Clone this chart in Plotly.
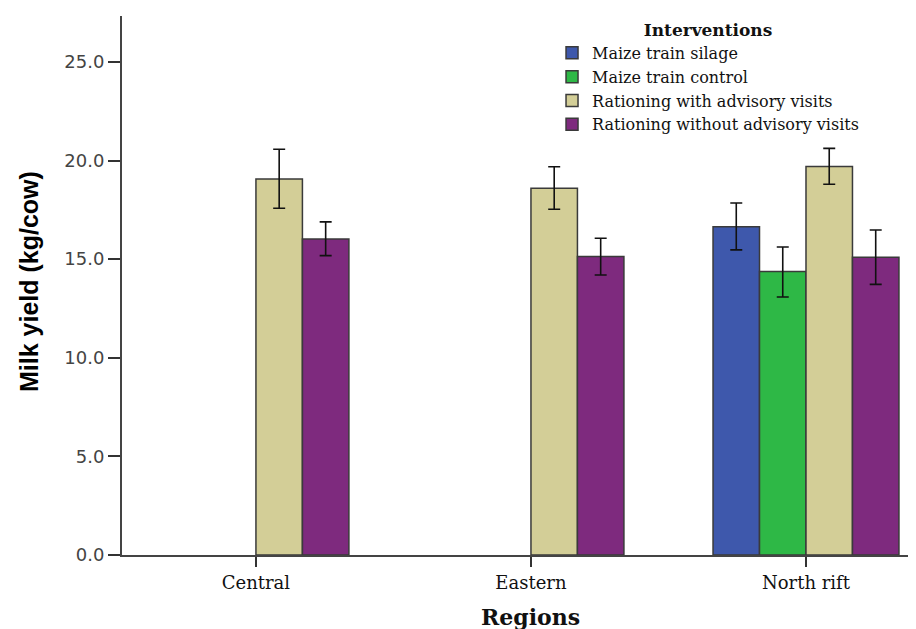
import plotly.graph_objects as go

regions = ["Central", "Eastern", "North rift"]
series_names = ["Maize train silage", "Maize train control",
                "Rationing with advisory visits", "Rationing without advisory visits"]
colors = ["#3E58AC", "#2EB846", "#D3CE97", "#7E2A7E"]

silage = [None, None, 16.65]
silage_hi = [None, None, 17.85]
silage_lo = [None, None, 15.47]

control = [None, None, 14.37]
control_hi = [None, None, 15.62]
control_lo = [None, None, 13.08]

with_visits = [19.07, 18.60, 19.70]
with_visits_hi = [20.57, 19.69, 20.62]
with_visits_lo = [17.58, 17.53, 18.80]

without_visits = [16.02, 15.13, 15.10]
without_visits_hi = [16.89, 16.06, 16.48]
without_visits_lo = [15.18, 14.20, 13.72]

yticks = [0, 5, 10, 15, 20, 25]

series = [
    (silage, silage_hi, silage_lo),
    (control, control_hi, control_lo),
    (with_visits, with_visits_hi, with_visits_lo),
    (without_visits, without_visits_hi, without_visits_lo),
]

fig = go.Figure()
for name, col, (vals, hi, lo) in zip(series_names, colors, series):
    plus = [None if v is None else h - v for v, h in zip(vals, hi)]
    minus = [None if v is None else v - l for v, l in zip(vals, lo)]
    fig.add_trace(go.Bar(
        x=regions, y=vals, name=name,
        marker=dict(color=col, line=dict(color="#3a3a3a", width=1.5)),
        error_y=dict(type="data", symmetric=False, array=plus, arrayminus=minus,
                     color="#111111", thickness=1.6, width=6),
    ))

fig.update_layout(
    width=916, height=629,
    margin=dict(l=114, r=8, t=8, b=82, autoexpand=False),
    paper_bgcolor="white", plot_bgcolor="white",
    barmode="group", bargap=0.324, bargroupgap=0,
    showlegend=True,
    legend=dict(
        x=0.5416, y=1.004, xanchor="left", yanchor="top",
        title=dict(text="<b>Interventions</b>", side="top center",
                   font=dict(family="DejaVu Serif", size=17, color="#111")),
        font=dict(family="DejaVu Serif", size=16, color="#111"),
        bgcolor="rgba(0,0,0,0)", tracegroupgap=0,
    ),
    font=dict(family="DejaVu Sans", color="#333"),
)

fig.update_xaxes(
    type="category", range=[-0.487, 2.4],
    showline=True, linecolor="#444", linewidth=2,
    ticks="outside", ticklen=10, tickwidth=1.5, tickcolor="#333",
    tickfont=dict(family="DejaVu Serif", size=18, color="#111"),
    showgrid=False, zeroline=False,
)
fig.update_yaxes(
    range=[0, 27.33], tickvals=yticks, tickformat=".1f",
    showline=True, linecolor="#444", linewidth=2,
    ticks="outside", ticklen=12, tickwidth=1.5, tickcolor="#333",
    tickfont=dict(family="DejaVu Sans", size=18, color="#444"),
    showgrid=False, zeroline=False,
)

fig.add_annotation(
    text="<b>Milk yield (kg/cow)</b>", textangle=-90,
    xref="paper", yref="paper", x=-0.118, y=0.507,
    xanchor="center", yanchor="middle", showarrow=False,
    font=dict(family="Liberation Sans", size=25, color="#000"),
)
fig.add_annotation(
    text="<b>Regions</b>",
    xref="x", yref="paper", x=1, y=-0.115,
    xanchor="center", yanchor="middle", showarrow=False,
    font=dict(family="DejaVu Serif", size=22, color="#111"),
)

fig.write_html("out.html")
